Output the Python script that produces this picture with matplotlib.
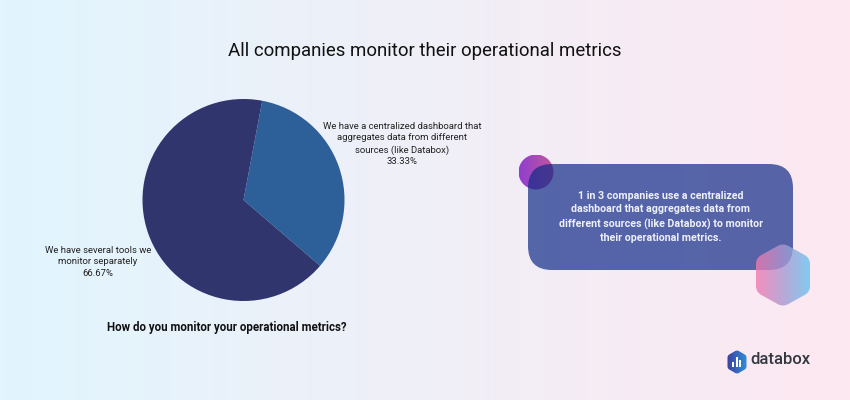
import numpy as np
import matplotlib
matplotlib.use("Agg")
import matplotlib.pyplot as plt
from matplotlib.colors import LinearSegmentedColormap
from matplotlib.patches import Circle, FancyBboxPatch, PathPatch, Rectangle
from matplotlib.path import Path

plt.rcParams['font.family'] = ['Roboto', 'DejaVu Sans']

# data
slice_values = [33.33, 66.67]
slice_colors = ["#2d5f99", "#30356d"]
slice_labels = ["We have a centralized dashboard that\naggregates data from different\nsources (like Databox)\n33.33%",
                "We have several tools we\nmonitor separately\n66.67%"]
title = "All companies monitor their operational metrics"
question = "How do you monitor your operational metrics?"
callout = "1 in 3 companies use a centralized\ndashboard that aggregates data from\ndifferent sources (like Databox) to monitor\ntheir operational metrics."

W, H = 850, 400
fig = plt.figure(figsize=(8.5, 4), dpi=100)

# background layer in pixel coordinates
bg = fig.add_axes([0, 0, 1, 1])
bg.axis("off")

def gradient(ax, extent, colors, clip, alpha=1.0, zorder=1):
    cmap = LinearSegmentedColormap.from_list("g", colors)
    im = ax.imshow(np.linspace(0, 1, 256).reshape(1, -1), cmap=cmap, extent=extent,
                   aspect="auto", alpha=alpha, zorder=zorder, interpolation="bilinear")
    im.set_clip_path(clip)
    return im

# polygon with rounded corners, used for the hexagons
def round_poly(pts, cut):
    pts = np.array(pts, dtype=float)
    verts, codes = [], []
    n = len(pts)
    for i in range(n):
        p = pts[i]
        a = pts[i - 1] - p
        b = pts[(i + 1) % n] - p
        start = p + a / np.linalg.norm(a) * cut
        end = p + b / np.linalg.norm(b) * cut
        verts += [start, p, end]
        codes += [Path.LINETO if i else Path.MOVETO, Path.CURVE3, Path.CURVE3]
    verts.append(verts[0])
    codes.append(Path.CLOSEPOLY)
    return Path(verts, codes)

rect = Rectangle((0, 0), W, H, transform=bg.transData, fc="none", ec="none")
bg.add_patch(rect)
gradient(bg, (0, W, H, 0), ["#e1f5fe", "#f0eff7", "#fde8f1"], rect, zorder=0)

# purple circle sits under the see-through box
circ = Circle((536, 172), 17.5, transform=bg.transData, fc="none", ec="none")
bg.add_patch(circ)
gradient(bg, (519, 554, 190, 155), ["#8f3fd0", "#c4569a"], circ, zorder=2)

# callout box
box = FancyBboxPatch((552, 188), 217, 58, boxstyle="round,pad=24,rounding_size=24",
                     fc="#112b88", ec="none", alpha=0.7, zorder=3)
bg.add_patch(box)

# hexagon goes over the box
hex_pts = [(783, 243), (810, 258), (810, 292), (783, 307), (756, 292), (756, 258)]
hexa = PathPatch(round_poly(hex_pts, 6), transform=bg.transData, fc="none", ec="none")
bg.add_patch(hexa)
gradient(bg, (755, 811, 308, 242), ["#f578ad", "#aa97d1", "#62c5f1"], hexa, alpha=0.8, zorder=5)
bg.set_xlim(0, W)
bg.set_ylim(H, 0)

# pie
cx, cy, r = 243.5, 200, 101
pie_ax = fig.add_axes([(cx - r) / W, 1 - (cy + r) / H, 2 * r / W, 2 * r / H])
pie_ax.pie(slice_values, colors=slice_colors, startangle=79.3, counterclock=False, radius=1,
           wedgeprops={"linewidth": 0})
pie_ax.set_xlim(-1, 1)
pie_ax.set_ylim(-1, 1)

# text, on top layer
top = fig.add_axes([0, 0, 1, 1])
top.axis("off")
top.patch.set_alpha(0)

top.text(425, 51, title, ha="center", va="center", fontsize=13.4, color="#111111")
top.text(402.5, 144, slice_labels[0], ha="center", va="center", fontsize=6.8, color="#222222", linespacing=1.36)
top.text(98, 262, slice_labels[1], ha="center", va="center", fontsize=6.8, color="#222222", linespacing=1.36)
top.text(227, 328, question, ha="center", va="center", fontsize=8.3, fontweight="bold", color="#111111")
top.text(661, 217, callout, ha="center", va="center", fontsize=7.7, fontweight="bold", color="#eef0f8",
         linespacing=1.44)

# logo
logo_pts = [(737, 350), (746.5, 355.5), (746.5, 368.5), (737, 374), (727.5, 368.5), (727.5, 355.5)]
logo = PathPatch(round_poly(logo_pts, 2), transform=top.transData, fc="none", ec="none")
top.add_patch(logo)
gradient(top, (727, 747, 375, 349), ["#3d3f9f", "#2f8fd8"], logo, zorder=2)
top.add_patch(Rectangle((732.5, 362), 1.8, 5, fc="white", ec="none", zorder=3))
top.add_patch(Rectangle((736, 357), 1.8, 10, fc="white", ec="none", zorder=3))
top.add_patch(Rectangle((739.5, 360), 1.8, 7, fc="white", ec="none", zorder=3))
top.text(750.5, 360, "databox", ha="left", va="center", fontsize=12, fontweight="medium", color="#33373f")
top.set_xlim(0, W)
top.set_ylim(H, 0)

fig.savefig("out.png", dpi=100)
